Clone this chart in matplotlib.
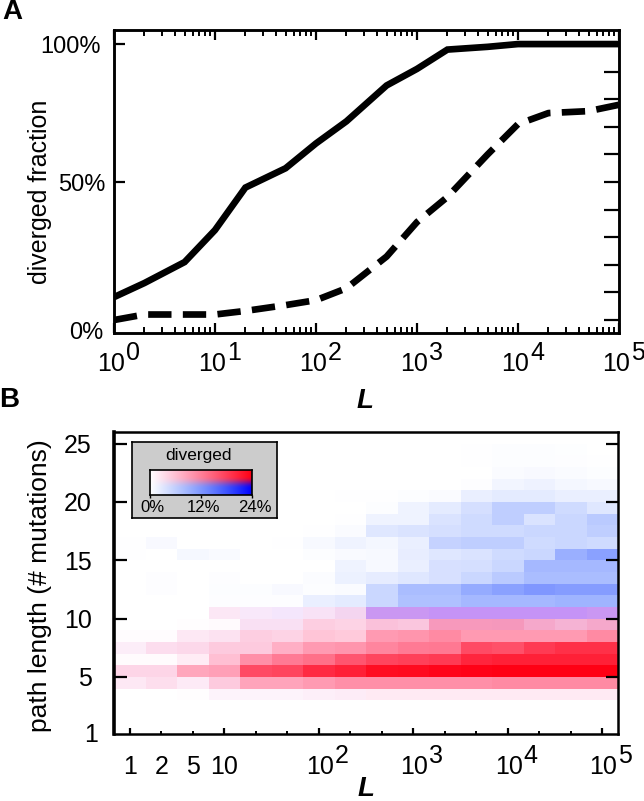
import numpy as np
import matplotlib
matplotlib.use("Agg")
import matplotlib.pyplot as plt

plt.rcParams["font.family"] = ["Liberation Sans", "DejaVu Sans"]

W, H = 644, 801

# -----------------------------
# Data, panel A
# -----------------------------
L_values = [1, 2, 5, 10, 20, 50, 100, 200, 500, 1000, 2000, 5000, 10000, 20000, 50000, 100000]
solid_frac = [8.3, 13.4, 21, 32.6, 48, 55, 64, 72, 85, 91, 98, 99, 100, 100, 100, 100]
dashed_frac = [0, 2, 2, 2, 3.3, 5.4, 7.2, 11.5, 23, 35.5, 44.6, 60, 71, 75, 75.7, 78]

# -----------------------------
# Data, panel B (percent per cell, one row per path length, columns follow L_values)
# -----------------------------
red_rows = {
    3: [0, 0, 0.2, 1, 1, 1, 1.4, 1.6, 2, 2, 2, 2, 2, 2, 2, 2],
    4: [2, 3, 1.8, 4.8, 8.6, 8.6, 9.5, 10.5, 10.5, 10.5, 10.5, 10.5, 11, 11, 11, 11],
    5: [3.8, 3.8, 8.4, 9, 17, 17.5, 20, 21, 22.8, 23, 23.5, 23.8, 24, 24, 24, 24],
    6: [0.4, 0.4, 1.8, 6, 10.5, 12.5, 13.5, 16, 17.5, 18, 18.5, 20.5, 21, 21, 21, 21],
    7: [1.5, 3, 3.4, 4.8, 4.8, 7.5, 9.5, 10, 11.5, 12.5, 12.7, 17, 16.5, 18.5, 19.5, 19.5],
    8: [0.3, 0.3, 2, 2.5, 4.5, 4, 5.5, 5, 9.5, 10, 11, 9.5, 9.5, 9.5, 9.5, 11],
    9: [0, 0, 0.2, 0.5, 2.5, 2.5, 4.5, 4, 5.5, 5, 9, 9, 9, 7.5, 6.5, 7.5],
    10: [0, 0, 0, 2, 1.6, 1.6, 2.2, 3.2, 6, 6, 6, 6, 6, 6, 6, 6],
}
blue_rows = {
    3: [0, 0, 0, 0.2, 0.2, 0.2, 0.2, 0.2, 0, 0, 0, 0, 0, 0, 0, 0],
    4: [0.2, 0.2, 0.2, 0.2, 0, 0, 0, 0, 0, 0, 0, 0, 0, 0, 0, 0],
    5: [0.2, 0.2, 0, 0, 0, 0, 0, 0, 0, 0, 0, 0, 0, 0, 0, 0],
    7: [0.3, 0.3, 0.3, 0.2, 0.2, 0, 0, 0, 0, 0, 0, 0, 0, 0, 0, 0],
    8: [0, 0, 0.2, 0.3, 0.2, 0.2, 0, 0, 0, 0, 0, 0, 0, 0, 0, 0],
    9: [0, 0, 0, 0, 0.6, 0.6, 0.2, 0.2, 0.5, 0.5, 0.8, 0.8, 0.9, 0.9, 0.9, 0.9],
    10: [0, 0, 0, 0.3, 0.7, 1, 0.7, 1, 5, 5, 5.5, 5.5, 5.5, 5.5, 5.5, 5],
    11: [0, 0, 0, 0.2, 0.2, 0.2, 2, 2.5, 5, 7.5, 7.5, 8.5, 8.5, 8.5, 9, 9],
    12: [0, 0.2, 0, 0.3, 0.3, 0.7, 0.3, 0.5, 5, 8, 8, 10, 11, 12, 11.5, 11.5],
    13: [0, 0.2, 0, 0.2, 0, 0, 0.4, 1.8, 2.4, 3, 3.8, 5, 6.5, 8, 8, 8],
    14: [0, 0, 0, 0, 0, 0, 0, 1.5, 0.8, 2, 3.8, 4, 5, 8.5, 8.5, 8.5],
    15: [0.1, 0, 0.9, 0.6, 0, 0, 0.3, 0.6, 0.8, 2.2, 3, 3.5, 4.5, 5, 9.5, 11],
    16: [0.1, 0.7, 0, 0, 0, 0.1, 0.8, 1.5, 1, 2, 5.5, 6, 6, 4.5, 5, 4.5],
    17: [0, 0, 0, 0, 0, 0, 0.1, 0.5, 3, 3.5, 4, 4.5, 4.5, 5, 5, 6],
    18: [0, 0, 0, 0, 0, 0, 0, 0.1, 1.5, 1.5, 3.5, 4.5, 6, 3.5, 5, 6.5],
    19: [0, 0, 0, 0, 0, 0, 0, 0, 0.3, 1.5, 2.5, 4, 6, 6, 4.5, 3],
    20: [0, 0, 0, 0, 0, 0, 0, 0.1, 0.1, 0.3, 0.5, 2, 2.5, 2.5, 2, 2],
    21: [0, 0, 0, 0, 0, 0, 0, 0, 0, 0, 0, 0.2, 1.2, 1.6, 1, 0.8],
    22: [0, 0, 0, 0, 0, 0, 0, 0, 0, 0, 0, 0, 0.5, 0.7, 0.5, 0.3],
    23: [0, 0, 0, 0, 0, 0, 0, 0, 0, 0, 0, 0.1, 0.3, 0.3, 0.2, 0.1],
    24: [0, 0, 0, 0, 0, 0, 0, 0, 0, 0, 0, 0.1, 0.3, 0.3, 0.15, 0],
}
y_tick_values = [5, 10, 15, 20, 25]
color_max = 24


def to_grid(rows, n_rows=26):
    grid = np.zeros((n_rows, len(L_values)))
    for row, values in rows.items():
        grid[row] = values
    return grid


def blend(red, blue):
    # red and blue share of a cell mixed into one colour
    a = np.clip(red / color_max, 0, 1)
    b = np.clip(blue / color_max, 0, 1)
    r = 1 - b
    g = 1 - a - (0.75 * b + 0.25 * b ** 3)
    bl = 1 - 0.92 * a ** 1.2 + 0.6 * np.minimum(a, b)
    return np.clip(np.dstack([r, g, bl]), 0, 1)


def axes_px(left, top, right, bottom):
    return [left / W, 1 - bottom / H, (right - left) / W, (bottom - top) / H]


def fig_text(x, y, s, **kw):
    fig.text(x / W, 1 - y / H, s, **kw)


def power_label(ax, x, power, y_px, shift):
    # "10" under the tick with the exponent set apart, like the original figure
    px = ax.transData.transform((x, 1))[0]
    fig_text(px + shift, y_px, "10", fontsize=18, ha="center", va="center")
    fig_text(px + shift + 22, y_px - 11, str(power), fontsize=18, ha="center", va="center")


fig = plt.figure(figsize=(W / 100, H / 100), dpi=100)

# -----------------------------
# Panel A
# -----------------------------
ax_a = fig.add_axes(axes_px(114, 30, 619, 333))
ax_a.plot(L_values, solid_frac, color="black", lw=4.8, solid_capstyle="butt", solid_joinstyle="miter")
ax_a.plot(L_values, dashed_frac, color="black", lw=4.8, dashes=(3.5, 1.7), dash_capstyle="butt")
ax_a.set_xscale("log")
ax_a.set_xlim(1, 1e5)
ax_a.set_ylim(-4.7, 105.1)
for s in ax_a.spines.values():
    s.set_linewidth(1.8)
ax_a.set_xticks([10 ** p for p in range(6)])
ax_a.set_xticklabels([])
ax_a.tick_params(axis="x", which="major", direction="in", top=True, length=7, width=1.6)
ax_a.tick_params(axis="x", which="minor", direction="in", top=True, length=4, width=1.4)
ax_a.set_yticks([50, 100])
ax_a.set_yticklabels([])
ax_a.tick_params(axis="y", which="major", direction="in", left=True, length=8, width=1.6)

# right side ticks every 10%
ax_a_right = ax_a.twinx()
ax_a_right.set_ylim(ax_a.get_ylim())
ax_a_right.set_yticks(np.arange(0, 101, 10))
ax_a_right.set_yticklabels([])
ax_a_right.tick_params(axis="y", direction="in", length=11, width=1.6)
for s in ax_a_right.spines.values():
    s.set_linewidth(1.8)

fig_text(101, 47, "100%", fontsize=17, ha="right", va="center")
fig_text(105, 185, "50%", fontsize=17, ha="right", va="center")
fig_text(103, 333, "0%", fontsize=17, ha="right", va="center")
for p in range(6):
    power_label(ax_a, 10 ** p, p, 364, -3)
fig_text(40, 192, "diverged fraction", fontsize=18, rotation=90, ha="center", va="center")
fig_text(365, 401, "L", fontsize=20, fontweight="bold", fontstyle="italic", ha="center", va="center")
fig_text(12, 12, "A", fontsize=20, fontweight="bold", ha="center", va="center")

# -----------------------------
# Panel B
# -----------------------------
ax_b = fig.add_axes(axes_px(114, 432, 618, 734))
x_edges = np.arange(len(L_values) + 1) - 0.5
y_edges = np.arange(27)
ax_b.pcolormesh(x_edges, y_edges, blend(to_grid(red_rows), to_grid(blue_rows)), shading="flat")
ax_b.set_xlim(x_edges[0], x_edges[-1])
ax_b.set_ylim(0.1, 26)
for s in ax_b.spines.values():
    s.set_linewidth(1.8)
ax_b.spines["left"].set_linewidth(2.6)
ax_b.set_yticks(y_tick_values)
ax_b.set_yticklabels([str(v) for v in y_tick_values], fontsize=18)
ax_b.tick_params(axis="y", direction="in", left=True, right=True, length=9, width=1.6, pad=16)

ax_b.set_xticks([0, 3, 6, 9, 12, 15])
ax_b.set_xticks(np.arange(len(L_values)), minor=True)
ax_b.set_xticklabels([])
ax_b.tick_params(axis="x", which="major", direction="in", length=4, width=1.6)
ax_b.tick_params(axis="x", which="minor", direction="in", length=2, width=1.4)

short_labels = ["1", "2", "5", "10"]
for i, s in enumerate(short_labels):
    px = ax_b.transData.transform((i, 1))[0]
    fig_text(px, 767, s, fontsize=18, ha="center", va="center")
for col, p in zip([6, 9, 12, 15], [2, 3, 4, 5]):
    power_label(ax_b, col, p, 767, 1)
fig_text(98, 735, "1", fontsize=18, ha="right", va="center")
fig_text(40, 586, "path length (# mutations)", fontsize=19, rotation=90, ha="center", va="center")
fig_text(366, 789, "L", fontsize=20, fontweight="bold", fontstyle="italic", ha="center", va="center")
fig_text(9, 400, "B", fontsize=20, fontweight="bold", ha="center", va="center")

# colour key inside panel B
ax_key = fig.add_axes(axes_px(132, 442, 277, 518))
ax_key.set_facecolor("#cccccc")
ax_key.set_xticks([])
ax_key.set_yticks([])
for s in ax_key.spines.values():
    s.set_linewidth(1.2)

ax_bar = fig.add_axes(axes_px(150, 470, 252, 495))
ramp = np.linspace(0, color_max, 200)
bar_red = np.vstack([ramp, np.zeros_like(ramp)])
bar_blue = np.vstack([np.zeros_like(ramp), ramp])
ax_bar.imshow(blend(bar_red, bar_blue), aspect="auto", extent=[0, color_max, 0, 1])
ax_bar.set_yticks([])
ax_bar.set_xticks([0, 12, 24])
ax_bar.set_xticklabels([])
ax_bar.tick_params(axis="x", direction="out", length=2, width=1)
for s in ax_bar.spines.values():
    s.set_linewidth(1.2)

fig_text(199, 456, "diverged", fontsize=12.5, ha="center", va="center")
for x_px, s in zip([152, 204, 255], ["0%", "12%", "24%"]):
    fig_text(x_px, 508, s, fontsize=12, ha="center", va="center")

fig.savefig("out.png", dpi=100)
